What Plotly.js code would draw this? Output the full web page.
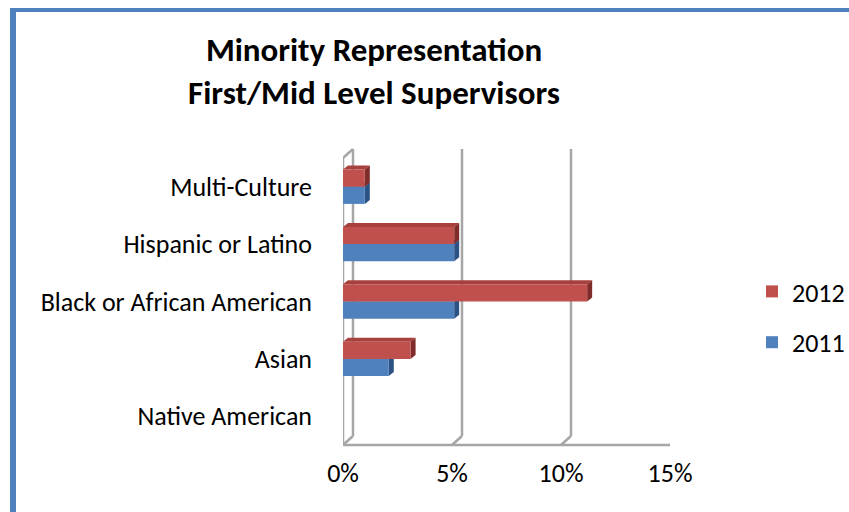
<!DOCTYPE html>
<html><head><meta charset="utf-8">
<script src="https://cdn.plot.ly/plotly-3.0.1.min.js"></script>
<style>
html,body{margin:0;padding:0;background:#fff;}
#frame{position:absolute;left:10px;top:8px;width:900px;height:600px;border-left:6px solid #4F81BD;border-top:4px solid #4F81BD;}
#chart{position:absolute;left:0;top:0;width:849px;height:512px;}
</style></head>
<body>
<div id="frame"></div>
<div id="chart"></div>
<script>
const categories = ["Native American","Asian","Black or African American","Hispanic or Latino","Multi-Culture"];
const values2011 = [0, 2.1, 5.1, 5.1, 1.0];
const values2012 = [0, 3.1, 11.2, 5.1, 1.0];
const tickVals = [0, 5, 10, 15];
const tickText = ["0%","5%","10%","15%"];

const FONT = "Carlito, Lato, 'Open Sans', sans-serif";
const W = 849, H = 512;
const M = {l:343, r:179, t:158, b:67};
const pw = W - M.l - M.r, ph = H - M.t - M.b;
const xMax = 15;
const pxX = xMax / pw;
const catPx = ph / categories.length;

const wdx = 10 * pxX, wdy = 9 / ph;
const gray = '#A6A6A6';
const shapes = [];
function line(x0,y0,x1,y1){
  shapes.push({type:'line', xref:'x', yref:'paper', x0:x0, y0:y0, x1:x1, y1:y1, layer:'below',
    line:{color:gray, width:2.5}});
}
line(0, 0, xMax, 0);
line(0, 0, 0, 1);
line(0, 1, wdx, 1 + wdy);
tickVals.forEach(v => {
  line(v, 0, v + wdx, wdy);
  line(v + wdx, wdy, v + wdx, 1 + wdy);
});

const bw = 0.3;
const bdx = 5 * pxX, bdy = 4 / catPx;
function faces(vals, offset, topCol, sideCol){
  vals.forEach((v,i) => {
    if (v <= 0) return;
    const y0 = i + offset, y1 = i + offset + bw;
    shapes.push({type:'path', xref:'x', yref:'y', layer:'below', line:{width:0}, fillcolor:topCol,
      path:`M0,${y1} L${v},${y1} L${v+bdx},${y1+bdy} L${bdx},${y1+bdy} Z`});
    shapes.push({type:'path', xref:'x', yref:'y', layer:'below', line:{width:0}, fillcolor:sideCol,
      path:`M${v},${y0} L${v},${y1} L${v+bdx},${y1+bdy} L${v+bdx},${y0+bdy} Z`});
  });
}
faces(values2011, -0.3, '#3E6DA5', '#2B5283');
faces(values2012, 0, '#A8413E', '#7F2C2A');

const traces = [
  {type:'bar', orientation:'h', name:'2011', y:categories, x:values2011,
   marker:{color:'#4F81BD'}, legendgroup:'a', legendrank:2},
  {type:'bar', orientation:'h', name:'2012', y:categories, x:values2012,
   marker:{color:'#C0504D'}, legendgroup:'b', legendrank:1}
];

const layout = {
  width:W, height:H,
  margin:M,
  paper_bgcolor:'rgba(0,0,0,0)', plot_bgcolor:'rgba(0,0,0,0)',
  font:{family:FONT, color:'#000', size:26},
  title:{text:'<b>Minority Representation</b><br><b>First/Mid Level Supervisors</b>',
    x:374/W, xanchor:'center', xref:'container', y:1-61/H, yanchor:'top', yref:'container',
    font:{family:FONT, size:33, color:'#000'}},
  barmode:'group', bargap:0.4,
  xaxis:{range:[0, xMax], tickvals:tickVals, ticktext:tickText, showgrid:false, zeroline:false,
    showline:false, ticks:'', ticklabelstandoff:10, tickfont:{size:26}, fixedrange:true},
  yaxis:{type:'category', categoryarray:categories, range:[-0.5, 4.5], showgrid:false, zeroline:false,
    showline:false, ticks:'', ticklabelstandoff:30, tickfont:{size:26}, fixedrange:true},
  legend:{x:752/W, xref:'container', xanchor:'left', y:1-268/H, yref:'container', yanchor:'top',
    traceorder:'grouped', tracegroupgap:14, font:{size:26}, bgcolor:'rgba(0,0,0,0)'},
  shapes:shapes,
  showlegend:true
};
Plotly.newPlot('chart', traces, layout, {staticPlot:true, displayModeBar:false});
</script>
</body></html>
